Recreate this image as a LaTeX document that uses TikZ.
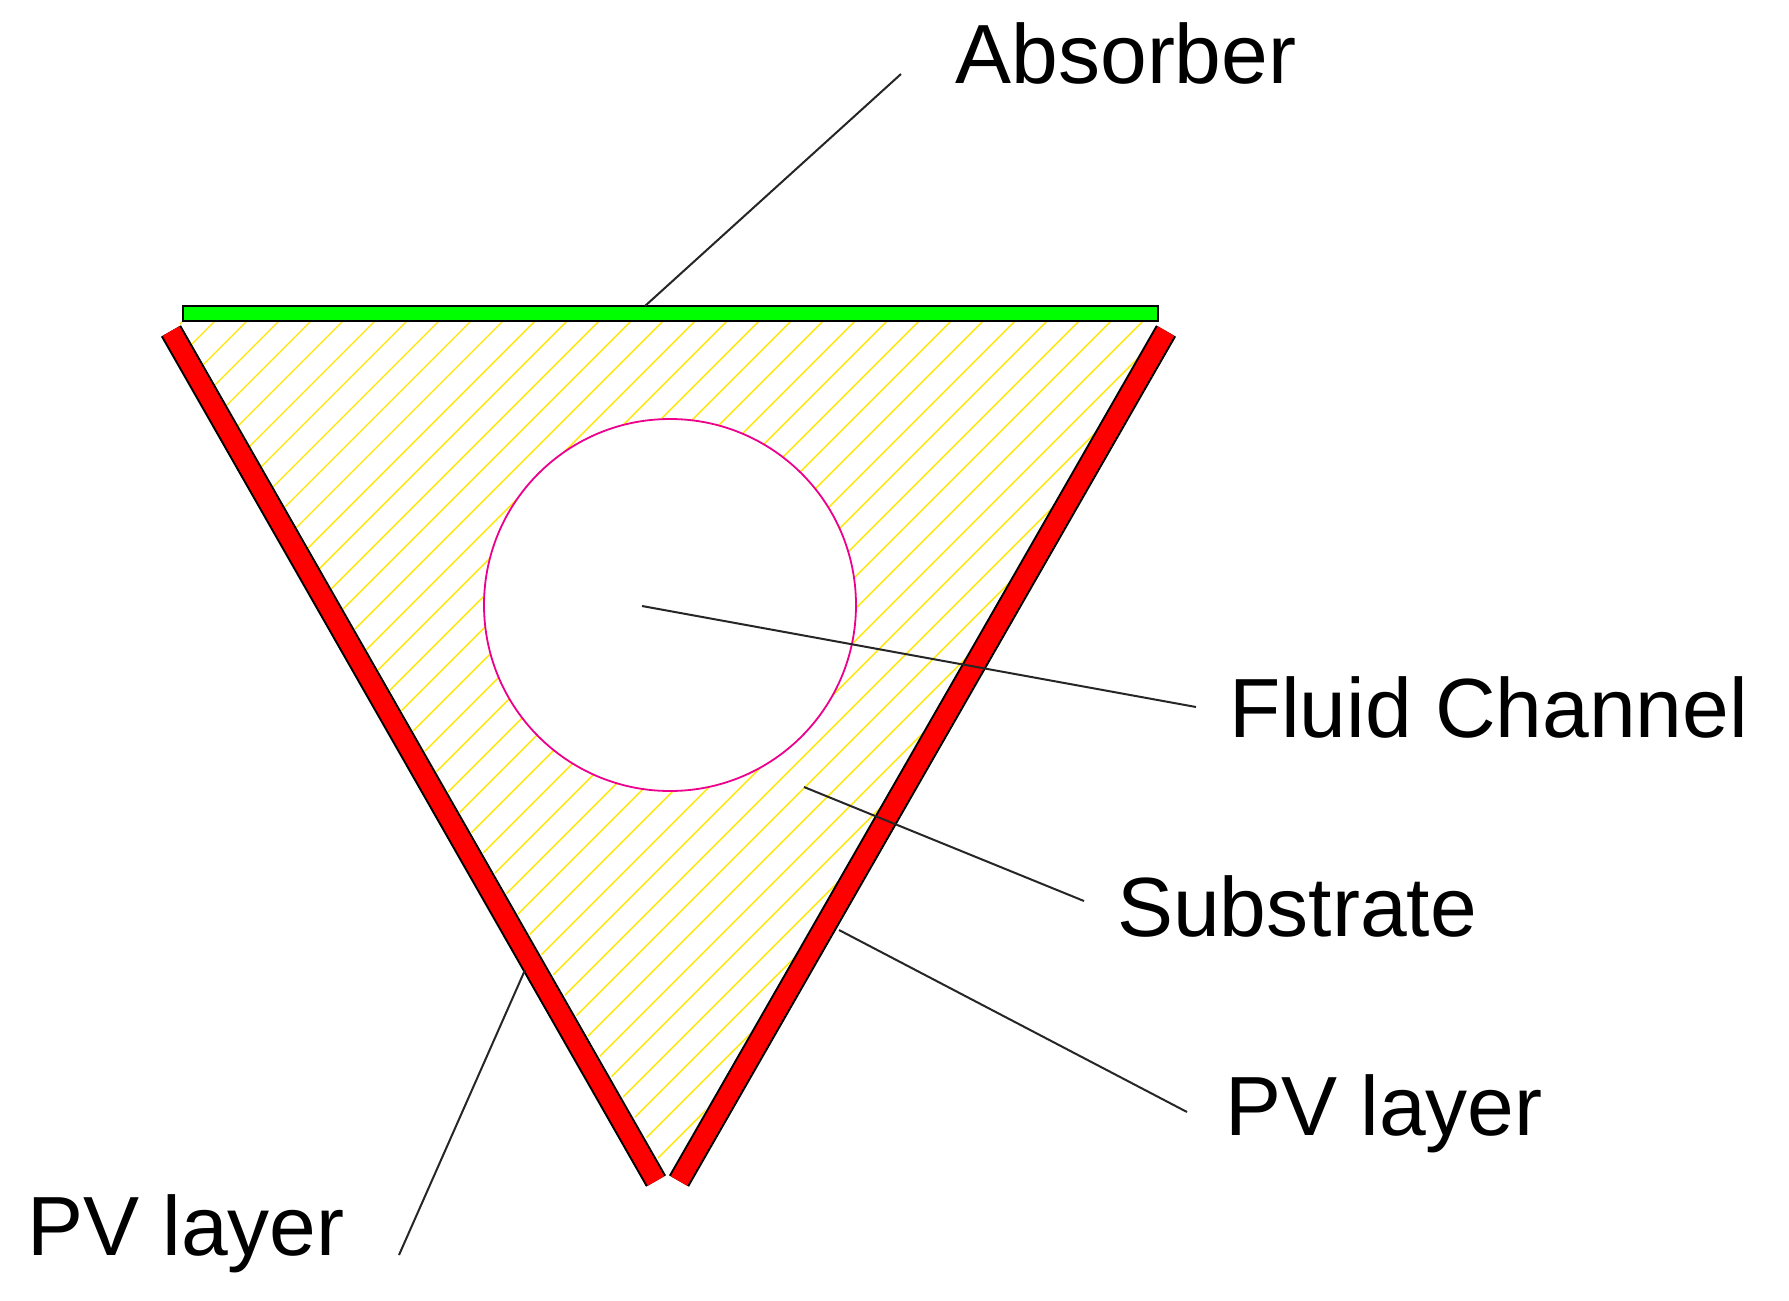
\documentclass[tikz,border=0pt]{standalone}
\usepackage{fontspec}
\setmainfont{Liberation Sans}
\begin{document}
\begin{tikzpicture}[x=1pt,y=-1pt,
  lbl/.style={font=\fontsize{84}{96}\selectfont,inner sep=0pt},
  lead/.style={line width=2pt,black!85}]
\useasboundingbox (0,0) rectangle (1789,1301);
\fill[white] (0,0) rectangle (1789,1301);
% substrate hatch
\begin{scope}
\clip (178,321) -- (1162,321) -- (668,1175) -- cycle;
\foreach \i in {-40,...,40}{
  \draw[yellow!90!orange,line width=1.4pt] (\i*32+200,1200) -- ++(1000,-1000);
}
\end{scope}
% fluid channel
\node[circle,draw=magenta,line width=1.8pt,fill=white,minimum size=372pt,inner sep=0pt] (ch) at (670,605) {};
% absorber
\draw[fill=green,line width=2pt] (183,306) rectangle (1158,321);
% PV layers
\draw[black,line width=23pt] (171,331) -- (656,1181);
\draw[red,line width=19pt] (171,331) -- (656,1181);
\draw[black,line width=23pt] (1166,331) -- (679,1181);
\draw[red,line width=19pt] (1166,331) -- (679,1181);
% labels
\node[lbl] (abs) at (1126,53) {Absorber};
\node[lbl] (fc) at (1489,707) {Fluid Channel};
\node[lbl] (sub) at (1297,906) {Substrate};
\node[lbl] (pvr) at (1384,1114) {PV layer};
\node[lbl] (pvl) at (186,1234) {PV layer};
% leaders
\coordinate (a1) at (901,74); \coordinate (a2) at (645,306);
\coordinate (f1) at (1196,707); \coordinate (f2) at (642,606);
\coordinate (s1) at (1084,901); \coordinate (s2) at (804,787);
\coordinate (r1) at (1187,1112); \coordinate (r2) at (839,930);
\coordinate (l1) at (399,1255); \coordinate (l2) at (525,970);
\draw[lead] (a1) -- (a2);
\draw[lead] (f1) -- (f2);
\draw[lead] (s1) -- (s2);
\draw[lead] (r1) -- (r2);
\draw[lead] (l1) -- (l2);
\end{tikzpicture}
\end{document}
